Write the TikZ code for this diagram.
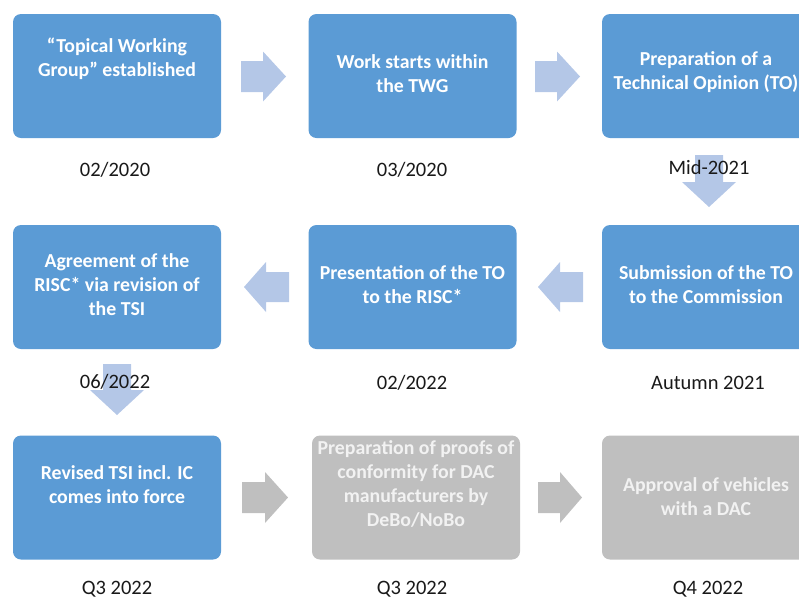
\documentclass[tikz,border=0pt]{standalone}
\usepackage{fontspec}
\setmainfont{Carlito}
\definecolor{boxblue}{HTML}{5B9BD5}
\definecolor{arrblue}{HTML}{B4C7E7}
\definecolor{boxgray}{HTML}{BFBFBF}
\definecolor{txtgray}{HTML}{F2F2F2}
\begin{document}
\begin{tikzpicture}[x=1pt,y=-1pt,
  box/.style={rounded corners=8pt, minimum width=208pt, minimum height=124pt, inner sep=0pt},
  bluebox/.style={box, fill=boxblue},
  graybox/.style={box, fill=boxgray},
  boxtext/.style={align=center, font=\fontsize{19.8}{24}\selectfont\bfseries, text=white, inner sep=0pt},
  graytext/.style={boxtext, text=txtgray},
  datetext/.style={font=\fontsize{20.5}{24}\selectfont, text=black!90, inner sep=0pt},
  barrow/.style={fill=arrblue},
  garrow/.style={fill=boxgray}
]
\clip (0,0) rectangle (799,598);
\useasboundingbox (0,0) rectangle (799,598);

% boxes
\node[bluebox] (b1) at (117,76) {};
\node[bluebox] (b2) at (412.5,76) {};
\node[bluebox] (b3) at (706,76) {};
\node[bluebox] (b4) at (706,287) {};
\node[bluebox] (b5) at (412.5,287) {};
\node[bluebox] (b6) at (117,287) {};
\node[bluebox] (b7) at (117,497.5) {};
\node[graybox] (b8) at (416,497.5) {};
\node[graybox] (b9) at (706,497.5) {};

% right arrows row 1
\coordinate (r1) at (241,76.5);
\filldraw[barrow, draw=none] (r1) ++(0,-15.5) -- ++(22,0) -- ++(0,-9.5) -- ++(23,25) -- ++(-23,25) -- ++(0,-9.5) -- ++(-22,0) -- cycle;
\coordinate (r2) at (535,76.5);
\filldraw[barrow, draw=none] (r2) ++(0,-15.5) -- ++(22,0) -- ++(0,-9.5) -- ++(23,25) -- ++(-23,25) -- ++(0,-9.5) -- ++(-22,0) -- cycle;
% down arrow Mid-2021
\coordinate (d1) at (709,155);
\filldraw[barrow, draw=none] (d1) ++(-14,0) -- ++(0,27) -- ++(-13,0) -- ++(27,25) -- ++(27,-25) -- ++(-13,0) -- ++(0,-27) -- cycle;
% left arrows row 2
\coordinate (l1) at (583,287);
\filldraw[barrow, draw=none] (l1) ++(0,-15) -- ++(-23,0) -- ++(0,-10) -- ++(-22,25) -- ++(22,25) -- ++(0,-10) -- ++(23,0) -- cycle;
\coordinate (l2) at (289,287);
\filldraw[barrow, draw=none] (l2) ++(0,-15) -- ++(-23,0) -- ++(0,-10) -- ++(-22,25) -- ++(22,25) -- ++(0,-10) -- ++(23,0) -- cycle;
% down arrow 06/2022
\coordinate (d2) at (117,364);
\filldraw[barrow, draw=none] (d2) ++(-14,0) -- ++(0,26) -- ++(-13,0) -- ++(27,25) -- ++(27,-25) -- ++(-13,0) -- ++(0,-26) -- cycle;
% gray arrows row 3
\coordinate (g1) at (242,497.5);
\filldraw[garrow, draw=none] (g1) ++(0,-15.5) -- ++(23,0) -- ++(0,-10) -- ++(23,25.5) -- ++(-23,25.5) -- ++(0,-10) -- ++(-23,0) -- cycle;
\coordinate (g2) at (538,497.5);
\filldraw[garrow, draw=none] (g2) ++(0,-15.5) -- ++(22,0) -- ++(0,-10) -- ++(22,25.5) -- ++(-22,25.5) -- ++(0,-10) -- ++(-22,0) -- cycle;

% box texts
\node[boxtext] (t1) at (117,59) {“Topical Working\\Group” established};
\node[boxtext] (t2) at (412.5,74) {Work starts within\\the TWG};
\node[boxtext] (t3) at (706,72) {Preparation of a\\Technical Opinion (TO)};
\node[boxtext] (t4) at (706,285) {Submission of the TO\\to the Commission};
\node[boxtext] (t5) at (412.5,285) {Presentation of the TO\\to the RISC*};
\node[boxtext] (t6) at (117,285) {Agreement of the\\RISC* via revision of\\the TSI};
\node[boxtext] (t7) at (117,485) {Revised TSI incl. IC\\comes into force};
\node[graytext] (t8) at (416,484) {Preparation of proofs of\\conformity for DAC\\manufacturers by\\DeBo/NoBo};
\node[graytext] (t9) at (706,497) {Approval of vehicles\\with a DAC};

% dates
\node[datetext] (d01) at (115,170) {02/2020};
\node[datetext] (d02) at (412,170) {03/2020};
\node[datetext] (d03) at (709,167) {Mid-2021};
\node[datetext] (d04) at (708,383) {Autumn 2021};
\node[datetext] (d05) at (412,383) {02/2022};
\node[datetext] (d06) at (115,382) {06/2022};
\node[datetext] (d07) at (117,589) {Q3 2022};
\node[datetext] (d08) at (412,589) {Q3 2022};
\node[datetext] (d09) at (708,589) {Q4 2022};
\end{tikzpicture}
\end{document}
